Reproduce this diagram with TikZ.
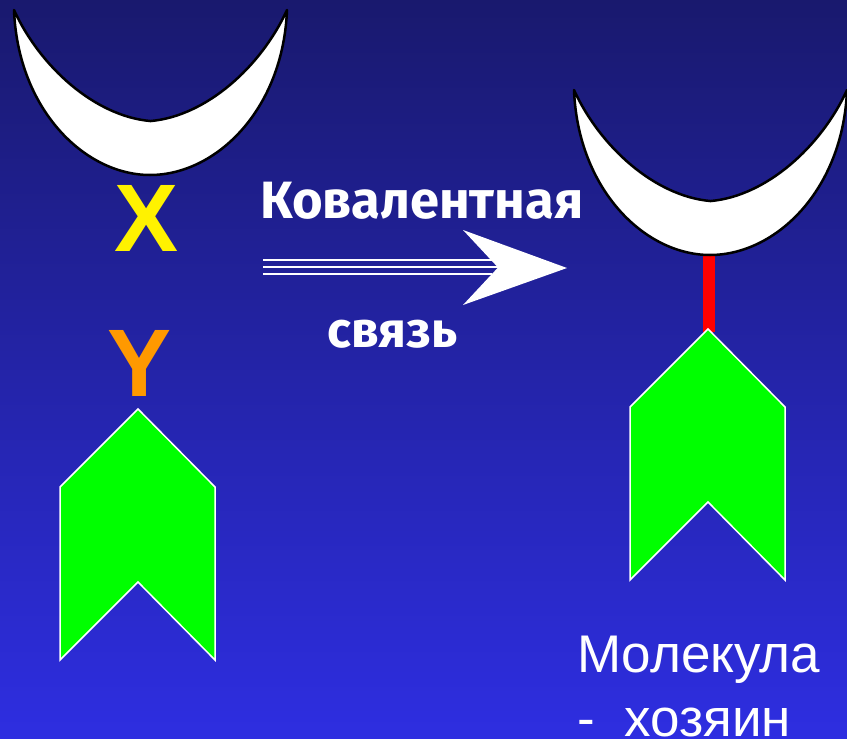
\documentclass[tikz,border=0pt]{standalone}
\usepackage{fontspec}
\setmainfont{Liberation Sans}
\newfontfamily\comicfont{Fira Sans}
\definecolor{bgtop}{RGB}{25,25,110}
\definecolor{bgbot}{RGB}{46,46,225}
\definecolor{gleaf}{RGB}{0,255,0}
\definecolor{yorange}{RGB}{255,153,0}
\tikzset{
  crescentstyle/.style={fill=white,draw=black,line width=2.5pt,line join=round},
  crescent/.pic={
    \draw[crescentstyle] (14,10) .. controls (18,110) and (85,175) .. (150,175)
      .. controls (216,175) and (283,110) .. (287,10)
      .. controls (261,67) and (206,116) .. (151,121) -- (150,121)
      .. controls (95,116) and (40,67) .. (14,10) -- cycle;
  },
  chevron/.pic={
    \draw[fill=gleaf,draw=white,line width=1.5pt,line join=miter]
      (138,409) -- (215,487) -- (215,660) -- (138,582) -- (60,660) -- (60,487) -- cycle;
  },
  letter/.style={font=\bfseries\fontsize{96}{96}\selectfont,inner sep=0pt},
  bigtxt/.style={text=white,inner sep=0pt,anchor=base west},
  bond/.style={draw=red,line width=12pt},
  triline/.style={draw=white,line width=2pt},
}
\begin{document}
\begin{tikzpicture}[x=1pt,y=-1pt]
\useasboundingbox (0,0) rectangle (847,739);
\shade[top color=bgtop,bottom color=bgbot] (0,0) rectangle (847,739);
% left group
\pic at (0,0) {crescent};
\node[letter,text=yellow] (X) at (146.5,218.5) {X};
\node[letter,text=yorange] (Y) at (140,363) {Y};
\pic at (0,0) {chevron};
% bond on right
\coordinate (c2bot) at (709,252);
\coordinate (g2top) at (709,332);
\draw[bond] (c2bot) -- (g2top);
\pic at (560,80) {crescent};
\pic at (570,-80) {chevron};
% arrow
\coordinate (a1s) at (263,259.5);
\coordinate (a1e) at (492,259.5);
\coordinate (a2s) at (263,266.8);
\coordinate (a2e) at (500,266.8);
\coordinate (a3s) at (263,274);
\coordinate (a3e) at (492,274);
\draw[triline] (a1s) -- (a1e);
\draw[triline] (a2s) -- (a2e);
\draw[triline] (a3s) -- (a3e);
\coordinate (tip) at (567,268);
\fill[white] (tip) -- (463,230) -- (498,267.5) -- (463,305) -- cycle;
% labels
\node[bigtxt,font=\comicfont\bfseries\fontsize{52.5}{52.5}\selectfont] (kov) at (260,218) {Ковалентная};
\node[bigtxt,font=\comicfont\bfseries\fontsize{50}{50}\selectfont] (svyaz) at (327,347) {связь};
\node[bigtxt,font=\fontsize{53}{53}\selectfont] (mol1) at (577,672) {Молекула};
\node[bigtxt,font=\fontsize{53}{53}\selectfont] (mol2) at (577,736) {-\ \ хозяин};
\end{tikzpicture}
\end{document}
